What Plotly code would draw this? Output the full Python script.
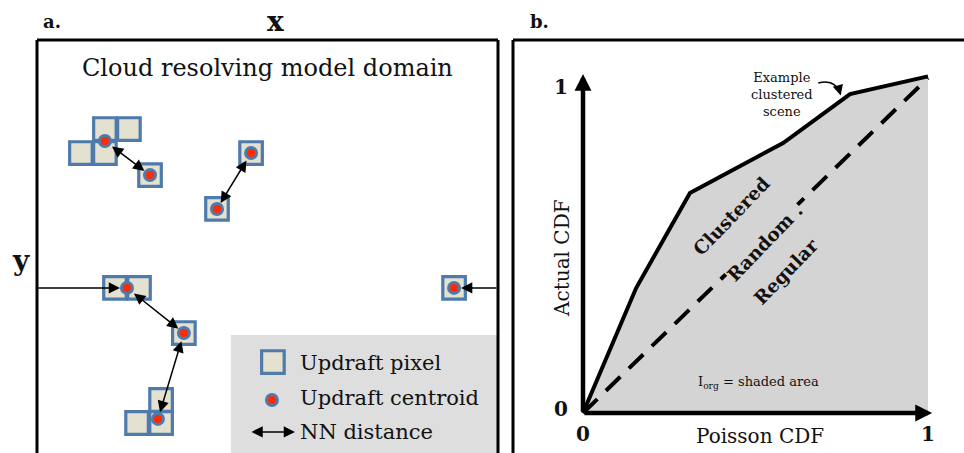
import plotly.graph_objects as go

W, H = 964, 453
SERIF = "DejaVu Serif"
INK = "#111111"
CELL_EDGE = "#4e7bab"
CELL_FILL = "#e4e1d0"
DOT_RED = "#ff2a00"
SHADE = "#d4d4d4"

# ---------------- panel a: model domain (units = one grid pixel) ----------------
# updraft pixel centres, grouped by cloud object
cell_x = [2.83, 3.83, 1.83, 2.83,   # object A
          4.71,                     # object B
          8.92,                     # object C
          7.50,                     # object D
          3.25, 4.25,               # object E
          6.12,                     # object F
          5.17, 4.17, 5.17,         # object G
          17.38]                    # object H
cell_y = [3.71, 3.71, 4.71, 4.71,
          5.63,
          4.71,
          7.04,
          10.33, 10.33,
          12.21,
          15.00, 15.96, 15.96,
          10.33]

# updraft centroids (A..H)
cen_x = [2.83, 4.71, 8.92, 7.50, 3.75, 6.12, 5.04, 17.38]
cen_y = [4.21, 5.63, 4.71, 7.04, 10.33, 12.21, 15.79, 10.33]

# nearest-neighbour pairs inside the domain
nn_pairs = [(0, 1), (2, 3), (4, 5), (5, 6)]
# neighbours found across the periodic boundary: (centroid, boundary x)
wrap_links = [(4, 0.0), (7, 19.21)]

DOM_W, DOM_H = 19.21, 17.21

# ---------------- panel b: CDF comparison ----------------
poisson_cdf = [0.0, 0.154, 0.31, 0.58, 0.774, 1.0]
actual_cdf = [0.0, 0.373, 0.657, 0.806, 0.952, 1.005]
tick_vals = [0, 1]

# ---------------- layout geometry (pixels) ----------------
A_LEFT, A_RIGHT, A_TOP = 37, 498, 40
B_LEFT, B_TOP = 513, 40
ORG_X, ORG_Y = 583, 413        # origin of the CDF plot
UX, UY = 345, 335              # pixels per unit on the CDF plot
PAD = 0.06

fig = go.Figure()

shapes = []
# legend background
shapes.append(dict(type="rect", xref="x", yref="y", x0=8.08, x1=DOM_W, y0=12.29, y1=DOM_H + 1,
                   line=dict(width=0), fillcolor="#dedede", layer="below"))

# pixel squares (drawn beneath the centroid markers)
HALF = 0.47
for x, y in list(zip(cell_x, cell_y)) + [(9.83, 13.42)]:
    shapes.append(dict(type="rect", xref="x", yref="y",
                       x0=x - HALF, x1=x + HALF, y0=y - HALF, y1=y + HALF,
                       line=dict(color=CELL_EDGE, width=3.2), fillcolor=CELL_FILL,
                       layer="below"))

# panel a frame (open at the bottom)
for x0, y0, x1, y1 in [(0, 0, 0, 1), (0, 1, 1, 1), (1, 0, 1, 1)]:
    shapes.append(dict(type="line", xref="x domain", yref="y domain",
                       x0=x0, y0=y0, x1=x1, y1=y1, line=dict(color="black", width=3)))

# panel b frame
bx = B_LEFT / W
by = (H - B_TOP) / H
shapes.append(dict(type="line", xref="paper", yref="paper", x0=bx, x1=bx, y0=-0.05, y1=by,
                   line=dict(color="black", width=3)))
shapes.append(dict(type="line", xref="paper", yref="paper", x0=bx, x1=1.05, y0=by, y1=by,
                   line=dict(color="black", width=3)))

# curved pointer for the example curve
shapes.append(dict(type="path", xref="x2", yref="y2",
                   path="M 0.682 0.985 Q 0.730 0.998 0.745 0.955",
                   line=dict(color="black", width=1.6)))

# centroid markers (panel a + legend)
mx = cen_x + [9.79]
my = cen_y + [15.0]
fig.add_trace(go.Scatter(x=mx, y=my, mode="markers", xaxis="x", yaxis="y",
                         marker=dict(size=14, color=CELL_EDGE, line=dict(width=0)),
                         hoverinfo="skip", showlegend=False))
fig.add_trace(go.Scatter(x=mx, y=my, mode="markers", xaxis="x", yaxis="y",
                         marker=dict(size=8, color=DOT_RED, line=dict(width=0)),
                         hoverinfo="skip", showlegend=False))

# shaded area under the example curve
fig.add_trace(go.Scatter(x=poisson_cdf + [1.0, 0.0], y=actual_cdf + [0.0, 0.0],
                         mode="lines", fill="toself", fillcolor=SHADE,
                         line=dict(width=0), xaxis="x2", yaxis="y2",
                         hoverinfo="skip", showlegend=False))
# random (Poisson) reference
fig.add_trace(go.Scatter(x=[0, 1], y=[0, 1], mode="lines", xaxis="x2", yaxis="y2",
                         line=dict(color="black", width=4, dash="20px,12px"),
                         hoverinfo="skip", showlegend=False))
# example clustered scene
fig.add_trace(go.Scatter(x=poisson_cdf, y=actual_cdf, mode="lines", xaxis="x2", yaxis="y2",
                         line=dict(color="black", width=4), hoverinfo="skip", showlegend=False))

ann = []


def arrow(x, y, ax, ay, both=True, ref=("x", "y"), width=1.5, size=1.5, stand=7):
    ann.append(dict(x=x, y=y, ax=ax, ay=ay, xref=ref[0], yref=ref[1],
                    axref=ref[0], ayref=ref[1], text="", showarrow=True,
                    arrowhead=2, startarrowhead=2, arrowsize=size, startarrowsize=size,
                    arrowwidth=width, arrowcolor="black",
                    arrowside="end+start" if both else "end",
                    standoff=stand, startstandoff=stand if both else 0))


for i, j in nn_pairs:
    arrow(cen_x[j], cen_y[j], cen_x[i], cen_y[i])
for i, bxv in wrap_links:
    arrow(cen_x[i], cen_y[i], bxv, cen_y[i], both=False)
# legend arrow
arrow(10.75, 16.33, 8.875, 16.33, stand=0)

# CDF axes with arrowheads
arrow(1.012, 0, 0, 0, both=False, ref=("x2", "y2"), width=4.5, size=0.75, stand=0)
arrow(0, 1.012, 0, 0, both=False, ref=("x2", "y2"), width=4.5, size=0.75, stand=0)
# head of the curved pointer
ann.append(dict(x=0.747, y=0.948, ax=-2, ay=-7, xref="x2", yref="y2", text="",
                showarrow=True, arrowhead=2, arrowsize=1.3, arrowwidth=1.6, arrowcolor="black"))


def txt(s, x, y, size, xref="paper", yref="paper", bold=False, angle=0, xa="center",
        xs=0, ys=0, color=INK, bg=None):
    d = dict(text=f"<b>{s}</b>" if bold else s, x=x, y=y, xref=xref, yref=yref,
             showarrow=False, xanchor=xa, yanchor="middle", textangle=angle,
             xshift=xs, yshift=ys,
             font=dict(family=SERIF, size=size, color=color))
    if bg:
        d.update(bgcolor=bg, borderpad=0)
    ann.append(d)


px = lambda v: v / W
py = lambda v: (H - v) / H

txt("a.", px(41), py(21), 18, xa="left", bold=True)
txt("b.", px(528), py(21), 18, xa="left", bold=True)
txt("x", px(275), py(21), 28, bold=True)
txt("y", px(21), py(260), 28, bold=True)
txt("Cloud resolving model domain", 0.5, 1.15, 24, xref="x domain", yref="y")

txt("Updraft pixel", 10.875, 13.46, 21, xref="x", yref="y", xa="left")
txt("Updraft centroid", 10.875, 14.92, 21, xref="x", yref="y", xa="left")
txt("NN distance", 10.875, 16.33, 21, xref="x", yref="y", xa="left")

txt("Example<br>clustered<br>scene", 0.577, 0.952, 13, xref="x2", yref="y2")
txt("I<sub>org</sub> = shaded area", 0.51, 0.0925, 13, xref="x2", yref="y2")
txt("Clustered", 0.429, 0.588, 18.5, xref="x2", yref="y2", bold=True, angle=-46)
txt("Random .", 0.527, 0.51, 18.5, xref="x2", yref="y2", bold=True, angle=-46, bg=SHADE)
txt("Regular", 0.59, 0.421, 18.5, xref="x2", yref="y2", bold=True, angle=-46)

txt("Poisson CDF", 0.513, 0, 20, xref="x2", yref="y2", ys=-23)
txt("Actual CDF", 0, 0.463, 20, xref="x2", yref="y2", xs=-21, angle=-90)
for v in tick_vals:
    txt(str(v), v, 0, 20, xref="x2", yref="y2", bold=True, ys=-21)
txt("0", 0, 0, 20, xref="x2", yref="y2", bold=True, xs=-22, ys=4)
txt("1", 0, 1, 20, xref="x2", yref="y2", bold=True, xs=-22, ys=-9)

hidden = dict(visible=False, fixedrange=True)
fig.update_layout(
    width=W, height=H, margin=dict(l=0, r=0, t=0, b=0),
    paper_bgcolor="white", plot_bgcolor="rgba(0,0,0,0)",
    xaxis=dict(domain=[A_LEFT / W, A_RIGHT / W], range=[0, DOM_W], **hidden),
    yaxis=dict(domain=[0, (H - A_TOP) / H], range=[DOM_H, 0], **hidden),
    xaxis2=dict(domain=[(ORG_X - PAD * UX) / W, (ORG_X + (1 + PAD) * UX) / W],
                range=[-PAD, 1 + PAD], anchor="y2", **hidden),
    yaxis2=dict(domain=[(H - ORG_Y - PAD * UY) / H, (H - ORG_Y + (1 + PAD) * UY) / H],
                range=[-PAD, 1 + PAD], anchor="x2", **hidden),
    shapes=shapes, annotations=ann, showlegend=False,
)

fig.write_html("out.html")
